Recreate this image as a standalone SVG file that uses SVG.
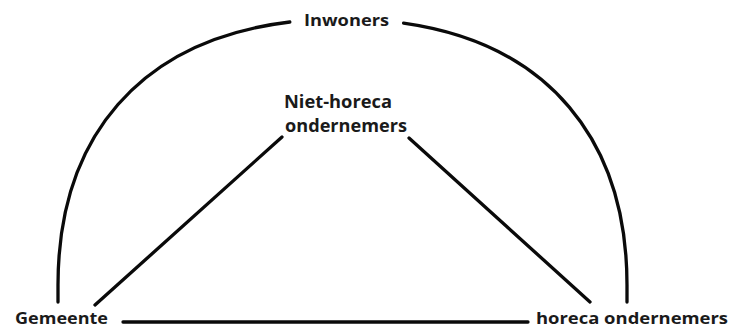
<svg xmlns="http://www.w3.org/2000/svg" width="732" height="329" viewBox="0 0 732 329">
<style>
.lbl{font-family:"Open Sans","Liberation Sans",sans-serif;font-weight:bold;fill:#1a1a1a}
.ln{fill:none;stroke:#0a0a0a;stroke-width:3.3;stroke-linecap:round;stroke-linejoin:round}
</style>
<rect width="732" height="329" fill="#ffffff"/>
<g id="connectors">
<path class="ln" d="M58,302 L58,285 C58,136.5 140.6,39.8 289.8,22"/>
<path class="ln" d="M627,302 L627,285 C627,139.3 547.4,43.5 403.6,23.1"/>
<line class="ln" x1="282" y1="137" x2="95" y2="305"/>
<line class="ln" x1="409" y1="138" x2="590" y2="302"/>
<line class="ln" x1="123" y1="322" x2="528" y2="322"/>
</g>
<g id="inwoners"><text class="lbl" x="304" y="26" font-size="16" textLength="85" lengthAdjust="spacingAndGlyphs">Inwoners</text></g>
<g id="niet-horeca">
<text class="lbl" x="284" y="108" font-size="17" textLength="108" lengthAdjust="spacingAndGlyphs">Niet-horeca</text>
<text class="lbl" x="285" y="132" font-size="17" textLength="122" lengthAdjust="spacingAndGlyphs">ondernemers</text>
</g>
<g id="gemeente"><text class="lbl" x="15" y="324" font-size="16" textLength="93" lengthAdjust="spacingAndGlyphs">Gemeente</text></g>
<g id="horeca"><text class="lbl" x="536" y="324" font-size="16" textLength="192" lengthAdjust="spacingAndGlyphs">horeca ondernemers</text></g>
</svg>
